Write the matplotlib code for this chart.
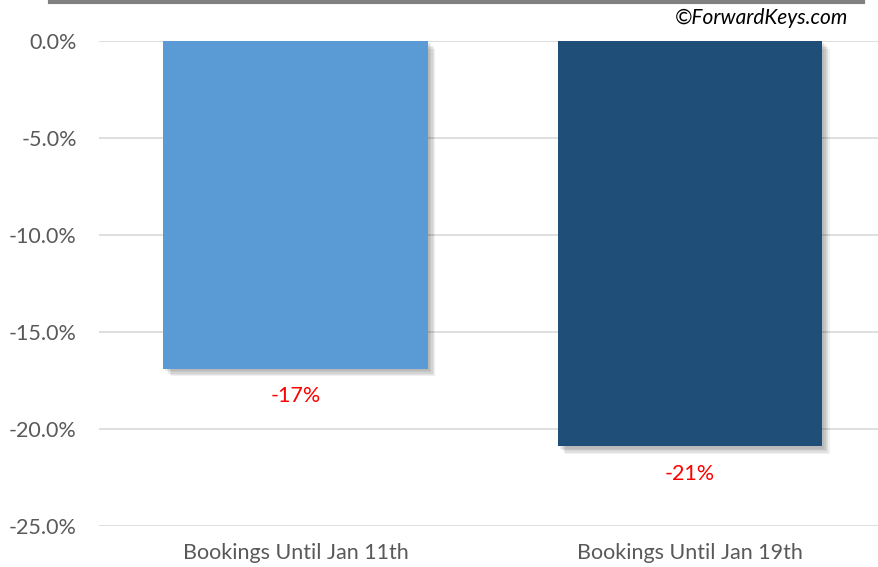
import numpy as np
import matplotlib
matplotlib.use("Agg")
import matplotlib.pyplot as plt
import matplotlib.patheffects as pe
from matplotlib.lines import Line2D

categories = ["Bookings Until Jan 11th", "Bookings Until Jan 19th"]
values = [-16.9, -20.9]
labels = ["-17%", "-21%"]
colors = ["#5B9BD5", "#1F4E79"]
yticks = [0, -5, -10, -15, -20, -25]

plt.rcParams['font.family'] = ['Lato', 'DejaVu Sans']

fig = plt.figure(figsize=(8.79, 5.67), dpi=100)
ax = fig.add_axes([99 / 879, 41 / 567, 780 / 879, 485 / 567])

x = np.arange(len(categories))

# soft shadow, a few stacked offset layers
shadow = [pe.SimplePatchShadow(offset=(d, -d), shadow_rgbFace="#000000", alpha=0.06)
          for d in (1.5, 2.5, 3.5, 4.5, 5.5)]
bars = ax.bar(x, values, width=0.67, color=colors, zorder=3)
for b in bars:
    b.set_path_effects(shadow + [pe.Normal()])

for xi, v, lab in zip(x, values, labels):
    ax.annotate(lab, (xi, v), xytext=(0, -19.5), textcoords="offset points",
                ha="center", va="center", color="#FF0000", fontsize=15.5)

ax.set_xlim(-0.498, 1.479)
ax.set_ylim(-25, 0)
ax.set_yticks(yticks)
ax.set_yticklabels([f"{t:.1f}%" for t in yticks])
ax.set_xticks(x)
ax.set_xticklabels(categories)
ax.tick_params(axis="both", length=0, labelsize=15.5, labelcolor="#595959")
ax.tick_params(axis="y", pad=16)
ax.tick_params(axis="x", pad=12)
ax.yaxis.grid(True, color="#D9D9D9", lw=1.2, zorder=0)
ax.set_axisbelow(True)
for s in ax.spines.values():
    s.set_visible(False)

fig.add_artist(Line2D([50 / 879, 863 / 879], [1 - 1.5 / 567, 1 - 1.5 / 567],
                      color="#808080", lw=3, transform=fig.transFigure))
fig.text(848 / 879, 1 - 18 / 567, "©ForwardKeys.com", ha="right", va="center",
         fontsize=15, style="italic", color="#000000")

fig.savefig("out.png", dpi=100)
